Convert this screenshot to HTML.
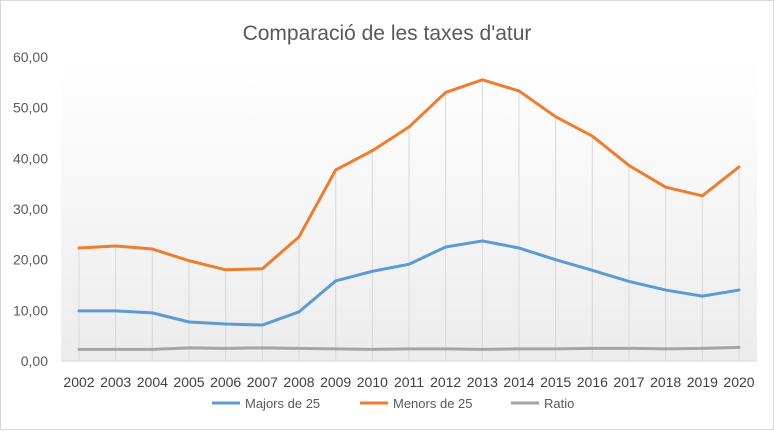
<!DOCTYPE html>
<html><head><meta charset="utf-8"><style>
body{margin:0;background:#fff;font-family:"Liberation Sans",sans-serif}
svg text{font-family:"Liberation Sans",sans-serif}
</style></head><body>
<svg width="774" height="430" viewBox="0 0 774 430">
<defs><linearGradient id="bg" x1="0" y1="0" x2="0" y2="1"><stop offset="0" stop-color="#fff"/><stop offset="1" stop-color="#ececec"/></linearGradient></defs>
<rect x="0.5" y="0.5" width="773" height="429" fill="#fff" stroke="#d9d9d9"/>
<rect x="61" y="57" width="696" height="304" fill="url(#bg)"/>
<text x="387" y="40" text-anchor="middle" font-size="21" fill="#595959">Comparació de les taxes d'atur</text>
<g id="drops"></g><g id="yt"></g><g id="xt"></g><g id="lines"></g>
<line x1="61" y1="361" x2="757" y2="361" stroke="#d9d9d9"/>
<g font-size="13" fill="#595959">
<line x1="212" y1="403" x2="240" y2="403" stroke="#5b9bd5" stroke-width="3"/><text x="245" y="408">Majors de 25</text>
<line x1="360" y1="403" x2="388" y2="403" stroke="#ed7d31" stroke-width="3"/><text x="393" y="408">Menors de 25</text>
<line x1="511" y1="403" x2="539" y2="403" stroke="#a5a5a5" stroke-width="3"/><text x="544" y="408">Ratio</text>
</g>
</svg>
<script>
const years=[2002,2003,2004,2005,2006,2007,2008,2009,2010,2011,2012,2013,2014,2015,2016,2017,2018,2019,2020];
const majors=[9.9,9.9,9.5,7.7,7.3,7.1,9.7,15.8,17.7,19.1,22.5,23.7,22.3,20.0,17.9,15.7,14.0,12.8,14.0];
const menors=[22.3,22.7,22.1,19.8,18.0,18.2,24.5,37.7,41.5,46.2,53.0,55.5,53.3,48.2,44.4,38.6,34.3,32.6,38.3];
const ratio=[2.3,2.3,2.3,2.6,2.5,2.6,2.5,2.4,2.3,2.4,2.4,2.3,2.4,2.4,2.5,2.5,2.4,2.5,2.7];
const yTicks=[0,10,20,30,40,50,60];
const NS="http://www.w3.org/2000/svg";
const x=i=>79+i*(739-79)/(years.length-1);
const y=v=>361-v*(361-57)/60;
function mk(t,a,p){const e=document.createElementNS(NS,t);for(const k in a)e.setAttribute(k,a[k]);document.getElementById(p).appendChild(e);return e;}
yTicks.forEach(v=>{const t=mk('text',{x:48,y:y(v)+5,'text-anchor':'end','font-size':14,fill:'#595959'},'yt');t.textContent=v.toFixed(2).replace('.',',');

});
years.forEach((yr,i)=>{const t=mk('text',{x:x(i),y:387,'text-anchor':'middle','font-size':14,fill:'#404040'},'xt');t.textContent=yr;


const m=Math.max(majors[i],menors[i],ratio[i]);
const d=mk('line',{x1:x(i),x2:x(i),y1:y(m),y2:361,stroke:'#d9d9d9'},'drops');

});
[[majors,'#5b9bd5','line-majors'],[menors,'#ed7d31','line-menors'],[ratio,'#a5a5a5','line-ratio']].forEach(([s,c,n])=>{
const p=mk('polyline',{points:s.map((v,i)=>x(i)+','+y(v)).join(' '),fill:'none',stroke:c,'stroke-width':3,'stroke-linejoin':'round','stroke-linecap':'round'},'lines');

});
</script>
</body></html>
